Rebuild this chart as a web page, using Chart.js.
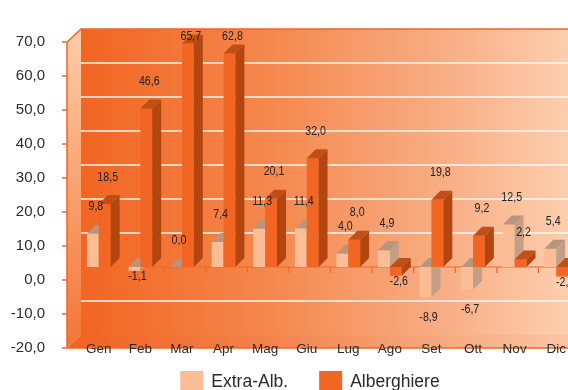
<!DOCTYPE html>
<html>
<head>
<meta charset="utf-8">
<script src="https://cdn.jsdelivr.net/npm/chart.js@4.4.1/dist/chart.umd.min.js"></script>
<style>
  html, body { margin: 0; padding: 0; background: #fff; overflow: hidden; }
  #wrap { width: 568px; height: 390px; overflow: hidden; }
</style>
</head>
<body>
<div id="wrap"><canvas id="chart" width="600" height="390"></canvas></div>
<script>
// dati mensili
const months = ['Gen', 'Feb', 'Mar', 'Apr', 'Mag', 'Giu', 'Lug', 'Ago', 'Set', 'Ott', 'Nov', 'Dic'];
const extraAlb = [9.8, -1.1, 0.0, 7.4, 11.3, 11.4, 4.0, 4.9, -8.9, -6.7, 12.5, 5.4];
const alberghiere = [18.5, 46.6, 65.7, 62.8, 20.1, 32.0, 8.0, -2.6, 19.8, 9.2, 2.2, -2.8];
const yTicks = [-20, -10, 0, 10, 20, 30, 40, 50, 60, 70];

// colori delle facce (fronte, lato, sopra)
const faces = [
    { front: '#fbbd95', side: '#c49f86', top: '#b8957d' },
    { front: '#f26522', side: '#b3460f', top: '#c04f17' }
];

const fmt = v => v.toFixed(1).replace('.', ',');
const DX = 14, DY = 13, BD = 9;
const ORANGE = '#f26522';

function poly(ctx, pts, fill) {
    ctx.beginPath();
    ctx.moveTo(pts[0][0], pts[0][1]);
    for (let i = 1; i < pts.length; i++) ctx.lineTo(pts[i][0], pts[i][1]);
    ctx.closePath();
    ctx.fillStyle = fill;
    ctx.fill();
}

const box3d = {
    id: 'box3d',
    beforeDraw(chart) {
        const { ctx, chartArea: a, scales: { y } } = chart;
        const W = chart.width;
        const fl = a.left - 11;
        const top = y.getPixelForValue(yTicks[yTicks.length - 1]);
        const bot = y.getPixelForValue(yTicks[0]);
        ctx.save();
        ctx.fillStyle = '#fff';
        ctx.fillRect(0, 0, W, chart.height);

        // parete di fondo
        let g = ctx.createLinearGradient(fl + DX, 0, 568, 0);
        g.addColorStop(0, '#f26522');
        g.addColorStop(0.4, '#f5894f');
        g.addColorStop(0.75, '#f8ae85');
        g.addColorStop(1, '#fdceae');
        ctx.fillStyle = g;
        ctx.fillRect(fl + DX, top - DY, W - fl - DX, bot - top);

        // parete sinistra
        g = ctx.createLinearGradient(0, top, 0, bot);
        g.addColorStop(0, '#fdcaa5');
        g.addColorStop(1, '#f47535');
        poly(ctx, [[fl, top], [fl + DX, top - DY], [fl + DX, bot - DY], [fl, bot]], g);

        // pavimento
        g = ctx.createLinearGradient(fl, 0, 568, 0);
        g.addColorStop(0, '#f0621f');
        g.addColorStop(0.4, '#f3824a');
        g.addColorStop(0.75, '#f6a97f');
        g.addColorStop(1, '#fbc6a3');
        poly(ctx, [[fl, bot], [fl + DX, bot - DY], [W, bot - DY], [W, bot]], g);

        // bordi
        ctx.strokeStyle = ORANGE;
        ctx.lineWidth = 1.5;
        ctx.beginPath();
        ctx.moveTo(fl, bot); ctx.lineTo(fl, top); ctx.lineTo(fl + DX, top - DY); ctx.lineTo(W, top - DY);
        ctx.moveTo(fl, bot); ctx.lineTo(W, bot);
        yTicks.forEach(v => {
            const py = y.getPixelForValue(v);
            ctx.moveTo(fl - 5, py); ctx.lineTo(fl, py);
        });
        ctx.stroke();
        ctx.restore();
    },
    beforeDatasetsDraw(chart) {
        const { ctx, chartArea: a, scales: { x, y } } = chart;
        const W = chart.width;
        const fl = a.left - 11;
        const z = y.getPixelForValue(0) - DY;
        ctx.save();

        // griglia sulla parete di fondo
        ctx.strokeStyle = '#fff8f2';
        ctx.lineWidth = 1.5;
        ctx.beginPath();
        yTicks.slice(1, -1).forEach(v => {
            if (v === 0) return;
            const py = y.getPixelForValue(v) - DY;
            ctx.moveTo(fl + DX, py); ctx.lineTo(W, py);
        });
        ctx.stroke();

        // asse zero con tacche
        ctx.strokeStyle = '#f06a22';
        ctx.lineWidth = 1.2;
        ctx.beginPath();
        ctx.moveTo(fl + DX, z); ctx.lineTo(W, z);
        const cw = x.getPixelForValue(1) - x.getPixelForValue(0);
        months.forEach((m, i) => {
            const px = x.getPixelForValue(i) + cw / 2 + 3;
            ctx.moveTo(px, z); ctx.lineTo(px, z + 6);
        });
        ctx.stroke();

        // barre 3D
        const metas = chart.data.datasets.map((ds, d) => chart.getDatasetMeta(d));
        months.forEach((m, i) => {
            metas.forEach((meta, d) => {
                const el = meta.data[i];
                const f = faces[d];
                const x0 = el.x - el.width / 2, x1 = el.x + el.width / 2;
                const yt = Math.min(el.y, el.base) - DY;
                const yb = Math.max(el.y, el.base) - DY;
                ctx.fillStyle = f.front;
                ctx.fillRect(x0, yt, x1 - x0, yb - yt);
                poly(ctx, [[x1, yt], [x1 + BD, yt - BD], [x1 + BD, yb - BD], [x1, yb]], f.side);
                poly(ctx, [[x0, yt], [x0 + BD, yt - BD], [x1 + BD, yt - BD], [x1, yt]], f.top);
            });
        });

        // etichette valori (testo stretto)
        ctx.font = '13px "Liberation Sans", sans-serif';
        ctx.fillStyle = '#222';
        ctx.textAlign = 'center';
        ctx.textBaseline = 'middle';
        metas.forEach((meta, d) => {
            const vals = chart.data.datasets[d].data;
            meta.data.forEach((el, i) => {
                const v = vals[i];
                const yt = Math.min(el.y, el.base) - DY;
                const yb = Math.max(el.y, el.base) - DY;
                let ly;
                if (v >= 0) ly = Math.max(yt - 27, a.top - 6);
                else ly = yb + (v > -5 ? 6 : 20);
                ctx.save();
                ctx.translate(el.x + 3, ly);
                ctx.scale(0.82, 1);
                ctx.fillText(fmt(v), 0, 0);
                ctx.restore();
            });
        });
        ctx.restore();
        return false;
    },
    afterDraw(chart) {
        const ctx = chart.ctx;
        ctx.save();
        ctx.font = '17.5px "Liberation Sans", Arial, sans-serif';
        ctx.textBaseline = 'alphabetic';
        ctx.textAlign = 'left';
        const box = 23, gap = 8, space = 31;
        const items = chart.data.datasets.map((ds, d) => ({
            text: ds.label, color: faces[d].front, w: ctx.measureText(ds.label).width
        }));
        const total = items.reduce((s, it) => s + box + gap + it.w, 0) + space * (items.length - 1);
        let lx = 310 - total / 2;
        items.forEach(it => {
            ctx.fillStyle = it.color;
            ctx.fillRect(lx, 371, box, 21);
            ctx.fillStyle = '#2b2b2b';
            ctx.fillText(it.text, lx + box + gap, 387);
            lx += box + gap + it.w + space;
        });
        ctx.restore();
    }
};

const ctx = document.getElementById('chart').getContext('2d');
const chart = new Chart(ctx, {
    type: 'bar',
    data: {
        labels: months,
        datasets: [
            { label: 'Extra-Alb.', data: extraAlb, backgroundColor: faces[0].front },
            { label: 'Alberghiere', data: alberghiere, backgroundColor: faces[1].front }
        ]
    },
    options: {
        responsive: false,
        animation: false,
        events: [],
        layout: { padding: { left: 0, top: 25, right: 23, bottom: 37 } },
        datasets: { bar: { categoryPercentage: 0.57, barPercentage: 1 } },
        plugins: {
            legend: { display: false },
            tooltip: { enabled: false }
        },
        scales: {
            x: {
                grid: { display: false, drawTicks: false },
                border: { display: false },
                ticks: {
                    mirror: true,
                    padding: -9,
                    color: '#2b2b2b',
                    font: { family: '"Liberation Sans", sans-serif', size: 13.5 }
                },
                afterFit: s => { s.height = 0; }
            },
            y: {
                min: -20,
                max: 70,
                grid: { display: false, drawTicks: false },
                border: { display: false },
                afterBuildTicks: s => { s.ticks = yTicks.map(v => ({ value: v })); },
                ticks: {
                    padding: 33,
                    color: '#2b2b2b',
                    font: { family: '"Liberation Sans", Arial, sans-serif', size: 15 },
                    callback: v => fmt(v)
                },
                afterFit: s => { s.width = 78; }
            }
        }
    },
    plugins: [box3d]
});
</script>
</body>
</html>
